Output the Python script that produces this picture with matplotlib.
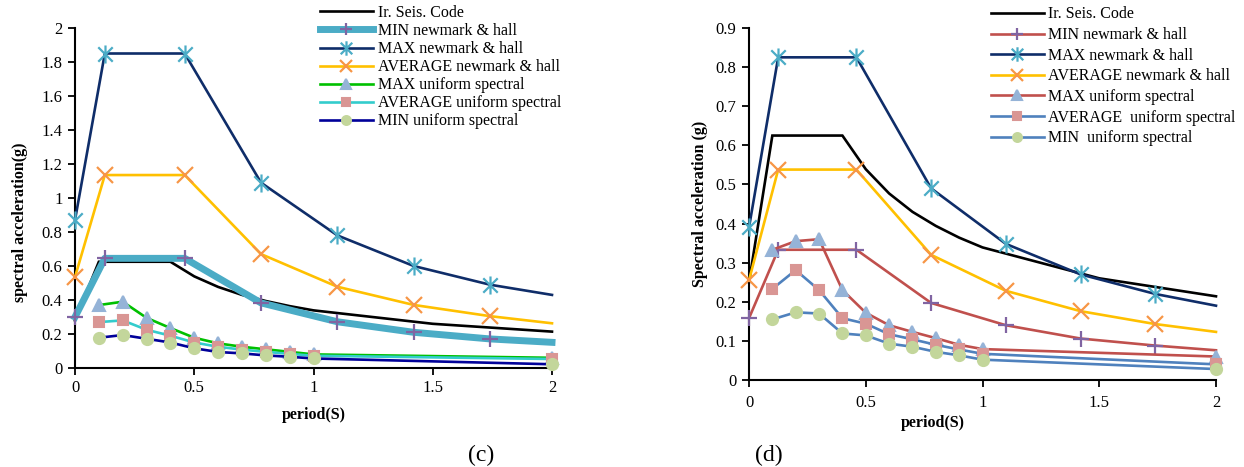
import matplotlib
matplotlib.use('Agg')
import matplotlib.pyplot as plt
from matplotlib.path import Path
from matplotlib.ticker import FuncFormatter, MultipleLocator

plt.rcParams['font.family'] = ['Liberation Serif', 'DejaVu Serif']

# ---------------- data ----------------
code_T = [0, 0.1, 0.4, 0.5, 0.6, 0.7, 0.8, 0.9, 1.0, 1.5, 2.0]
code_c = [0.28, 0.625, 0.625, 0.539, 0.477, 0.430, 0.394, 0.364, 0.339, 0.260, 0.214]
code_d = [0.25, 0.625, 0.625, 0.539, 0.477, 0.430, 0.394, 0.364, 0.339, 0.260, 0.214]

nh_T = [0, 0.125, 0.46, 0.78, 1.1, 1.42, 1.74, 2.0]
nh_min_c = [0.30, 0.645, 0.645, 0.383, 0.272, 0.21, 0.171, 0.151]
nh_max_c = [0.87, 1.85, 1.85, 1.09, 0.78, 0.60, 0.49, 0.43]
nh_avg_c = [0.535, 1.135, 1.135, 0.67, 0.478, 0.371, 0.305, 0.263]

nh_min_d = [0.158, 0.333, 0.333, 0.197, 0.14, 0.106, 0.088, 0.076]
nh_max_d = [0.39, 0.825, 0.825, 0.49, 0.348, 0.27, 0.22, 0.19]
nh_avg_d = [0.255, 0.538, 0.538, 0.32, 0.228, 0.176, 0.143, 0.123]

us_T = [0.1, 0.2, 0.3, 0.4, 0.5, 0.6, 0.7, 0.8, 0.9, 1.0, 2.0]
us_max_c = [0.37, 0.39, 0.295, 0.235, 0.178, 0.145, 0.125, 0.11, 0.095, 0.08, 0.06]
us_avg_c = [0.27, 0.28, 0.225, 0.19, 0.15, 0.125, 0.108, 0.095, 0.083, 0.072, 0.053]
us_min_c = [0.178, 0.194, 0.172, 0.15, 0.116, 0.094, 0.086, 0.074, 0.066, 0.056, 0.022]

us_max_d = [0.333, 0.355, 0.36, 0.23, 0.172, 0.14, 0.123, 0.107, 0.09, 0.079, 0.06]
us_avg_d = [0.233, 0.281, 0.23, 0.158, 0.144, 0.117, 0.104, 0.09, 0.078, 0.067, 0.04]
us_min_d = [0.155, 0.173, 0.17, 0.119, 0.114, 0.093, 0.085, 0.072, 0.063, 0.052, 0.028]

labels_c = ['Ir. Seis. Code', 'MIN newmark & hall', 'MAX newmark & hall',
            'AVERAGE newmark & hall', 'MAX uniform spectral',
            'AVERAGE uniform spectral', 'MIN uniform spectral']
labels_d = ['Ir. Seis. Code', 'MIN newmark & hall', 'MAX newmark & hall',
            'AVERAGE newmark & hall', 'MAX uniform spectral',
            'AVERAGE  uniform spectral', 'MIN  uniform spectral']

# ---------------- style ----------------
STAR = Path([(0, -1), (0, 1), (-0.8, -0.8), (0.8, 0.8), (-0.8, 0.8), (0.8, -0.8)],
            [Path.MOVETO, Path.LINETO, Path.MOVETO, Path.LINETO, Path.MOVETO, Path.LINETO])
PURPLE = '#8064A2'
TEAL = '#4BACC6'
ORANGE = '#F79646'
TRI = '#95B3D7'
SQ = '#D99694'
CIR = '#C3D69B'

W, H = 1244, 467
fig = plt.figure(figsize=(W / 100, H / 100), dpi=100)


def axrect(x0, x1, ytop, ybot):
    return [x0 / W, 1 - ybot / H, (x1 - x0) / W, (ybot - ytop) / H]


axL = fig.add_axes(axrect(75, 552, 28, 368))
axR = fig.add_axes(axrect(749, 1216, 28, 380))


def line(ax, T, y, color, lw, label, marker=None, mfc='none', mec='none', ms=8,
         mew=1.5, markevery=None):
    ax.plot(T, y, color=color, lw=lw, label=label, marker=marker, mfc=mfc, mec=mec,
            ms=ms, mew=mew, markevery=markevery, clip_on=False,
            solid_joinstyle='miter' if lw < 3 else 'round')


def draw(ax, code, nmin, nmax, navg, umax, uavg, umin, nmin_col, nmin_lw,
         umax_col, uavg_col, umin_col, labels):
    ev = slice(0, 7)
    line(ax, code_T, code, 'black', 1.9, labels[0])
    line(ax, nh_T, nmin, nmin_col, nmin_lw, labels[1], marker='+', mec=PURPLE,
         ms=11, mew=1.6, markevery=ev)
    line(ax, nh_T, nmax, '#0F2D69', 1.9, labels[2], marker=STAR, mec=TEAL, ms=13,
         mew=1.6, markevery=ev)
    line(ax, nh_T, navg, '#FFC000', 1.9, labels[3], marker='x', mec=ORANGE, ms=11,
         mew=1.6, markevery=ev)
    line(ax, us_T, umax, umax_col, 1.9, labels[4], marker='^', mfc=TRI, mec=TRI, ms=9)
    line(ax, us_T, uavg, uavg_col, 1.9, labels[5], marker='s', mfc=SQ, mec=SQ, ms=7.5)
    line(ax, us_T, umin, umin_col, 1.9, labels[6], marker='o', mfc=CIR, mec=CIR, ms=8)


draw(axL, code_c, nh_min_c, nh_max_c, nh_avg_c, us_max_c, us_avg_c, us_min_c,
     TEAL, 5.0, '#00C000', '#33CCCC', '#000099', labels_c)
draw(axR, code_d, nh_min_d, nh_max_d, nh_avg_d, us_max_d, us_avg_d, us_min_d,
     '#C0504D', 1.9, '#C0504D', '#4F81BD', '#4F81BD', labels_d)

fmt = FuncFormatter(lambda v, p: '%g' % round(v, 3))
for ax, ytop, ystep in ((axL, 2.0, 0.2), (axR, 0.9, 0.1)):
    ax.set_xlim(0, 2)
    ax.set_ylim(0, ytop)
    ax.xaxis.set_major_locator(MultipleLocator(0.5))
    ax.yaxis.set_major_locator(MultipleLocator(ystep))
    ax.xaxis.set_major_formatter(fmt)
    ax.yaxis.set_major_formatter(fmt)
    for s in ('top', 'right'):
        ax.spines[s].set_visible(False)
    for s in ('left', 'bottom'):
        ax.spines[s].set_linewidth(1.5)
        ax.spines[s].set_zorder(1)
    ax.tick_params(direction='out', length=5, width=1.3, labelsize=12,
                   colors='black')
    ax.tick_params(axis='y', pad=4)
    ax.set_facecolor('none')

axL.tick_params(axis='x', pad=3.5)
axR.tick_params(axis='x', pad=6)

# axis labels
axL.set_ylabel('spectral acceleration(g)', fontsize=11.5, fontweight='bold', va='center')
axL.yaxis.set_label_coords(-0.115, 0.43)
axR.set_ylabel('Spectral acceleration (g)', fontsize=11.5, fontweight='bold', va='center')
axR.yaxis.set_label_coords(-0.105, 0.5)
axL.set_xlabel('period(S)', fontsize=11.5, fontweight='bold', va='center')
axL.xaxis.set_label_coords(0.501, -0.138)
axR.set_xlabel('period(S)', fontsize=11.5, fontweight='bold', va='center')
axR.xaxis.set_label_coords(0.394, -0.122)

# legends
for ax, x0, ytop, sp in ((axL, 320, 5.0, 0.13), (axR, 991, 6.5, 0.29)):
    ax.legend(loc='upper left', bbox_to_anchor=(x0 / W, 1 - ytop / H),
              bbox_transform=fig.transFigure, frameon=False, borderpad=0,
              borderaxespad=0, handlelength=3.3, handletextpad=0.3,
              labelspacing=sp, fontsize=11.5, numpoints=1, markerscale=0.8)

# captions
fig.text(481 / W, 1 - 455 / H, '(c)', ha='center', va='center', fontsize=17)
fig.text(769 / W, 1 - 455 / H, '(d)', ha='center', va='center', fontsize=17)

fig.savefig('out.png', dpi=100)
